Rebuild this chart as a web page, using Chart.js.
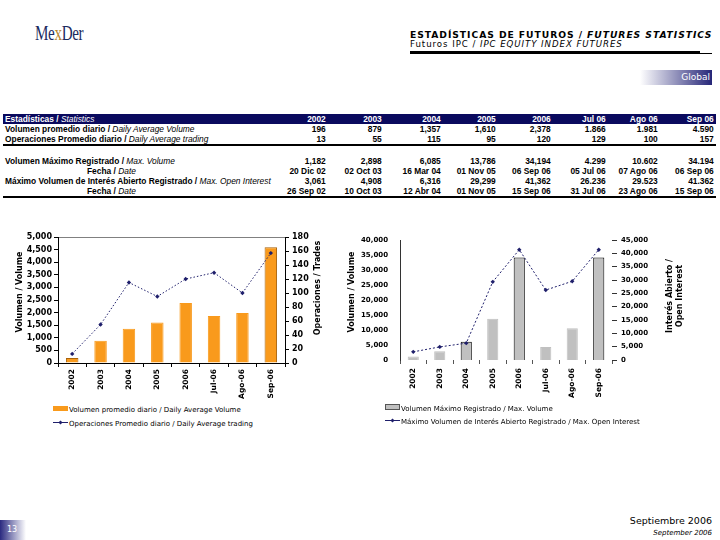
<!DOCTYPE html>
<html>
<head>
<meta charset="utf-8">
<script src="https://cdn.jsdelivr.net/npm/chart.js@4"></script>
<style>
  body { margin: 0; background: #fff; }
  #page { position: relative; width: 720px; height: 540px; overflow: hidden; font-family: "DejaVu Sans", sans-serif; color: #000; }
  .abs { position: absolute; }
  #logo { left: 35px; top: 21px; font-family: "Liberation Serif", serif; font-size: 21px; color: #1b2a5e; letter-spacing: -0.5px; transform: scaleX(0.72); transform-origin: left top; }
  #logo .x { color: #b8862b; }
  #title { left: 410px; top: 29px; font-size: 9.2px; font-weight: bold; letter-spacing: 0.95px; white-space: nowrap; }
  #subtitle { left: 410px; top: 39px; font-size: 8.6px; letter-spacing: 0.95px; white-space: nowrap; }
  #rule1 { left: 410px; top: 51px; width: 290px; height: 3px; background: #000; }
  #rule2 { left: 700px; top: 53px; width: 12px; height: 1px; background: #000; }
  #global { left: 640px; top: 70px; width: 72px; height: 15px; background: linear-gradient(to right, #fff, #262678); color: #fff; font-size: 9px; text-align: right; line-height: 15px; padding-right: 2px; box-sizing: border-box; }
  #stats { left: 3px; top: 114px; border-collapse: collapse; font-family: "Liberation Sans", sans-serif; font-size: 8.4px; font-weight: bold; }
  #stats td { padding: 0 2px 0 0; height: 10px; line-height: 10px; text-align: right; white-space: nowrap; }
  #stats td.lbl { text-align: left; padding-left: 2px; }
  #stats td.ind { padding-left: 84px; }
  #stats tr.head td { background: #0a0a5e; color: #fff; }
  #stats tr.rule td { border-bottom: 2px solid #000; }
  #stats i { font-weight: normal; }
  canvas { position: absolute; }
  .leg { position: absolute; font-size: 7px; white-space: nowrap; line-height: 9px; }
  .sw { display: inline-block; width: 15px; height: 5px; vertical-align: 1px; margin-right: 1px; }
  .lsw { display: inline-block; width: 15px; height: 5px; vertical-align: 1px; margin-right: 1px; position: relative; }
  .lsw::before { content: ""; position: absolute; left: 0; right: 0; top: 2px; border-top: 1px solid #1f1f6b; }
  .lsw::after { content: ""; position: absolute; left: 6px; top: 0.5px; width: 3px; height: 3px; background: #1f1f6b; transform: rotate(45deg); }
  #pgnum { left: 0; top: 520px; width: 26px; height: 20px; background: linear-gradient(to right, #2a2a80, #fff); color: #fff; font-size: 8px; line-height: 20px; padding-left: 7px; box-sizing: border-box; }
  #date1 { right: 8px; top: 515px; font-size: 9.5px; text-align: right; }
  #date2 { right: 8px; top: 529px; font-size: 7px; font-style: italic; text-align: right; }
</style>
</head>
<body>
<div id="page">
  <div id="logo" class="abs">Me<span class="x">x</span>Der</div>
  <div id="title" class="abs">ESTADÍSTICAS DE FUTUROS / <i>FUTURES STATISTICS</i></div>
  <div id="subtitle" class="abs">Futuros IPC / <i>IPC EQUITY INDEX FUTURES</i></div>
  <div id="rule1" class="abs"></div>
  <div id="rule2" class="abs"></div>
  <div id="global" class="abs">Global</div>

  <table id="stats" class="abs"></table>

  <canvas id="chart1" width="340" height="178" style="left:0px;top:228px;width:340px;height:178px"></canvas>
  <div class="leg" style="left:53px;top:406px"><span class="sw" style="background:#f99a1c"></span>Volumen promedio diario / Daily Average Volume</div>
  <div class="leg" style="left:53px;top:420px"><span class="lsw"></span>Operaciones Promedio diario / Daily Average trading</div>

  <canvas id="chart2" width="375" height="178" style="left:345px;top:228px;width:375px;height:178px"></canvas>
  <div class="leg" style="left:385px;top:404px"><span class="sw" style="background:#c0c0c0;border:1px solid #555;box-sizing:border-box;height:6px"></span>Volumen Máximo Registrado / Max. Volume</div>
  <div class="leg" style="left:385px;top:418px"><span class="lsw"></span>Máximo Volumen de Interés Abierto Registrado / Max. Open Interest</div>

  <div id="pgnum" class="abs">13</div>
  <div id="date1" class="abs">Septiembre 2006</div>
  <div id="date2" class="abs">September 2006</div>
</div>

<script>
// chart categories and values
const categories = ['2002', '2003', '2004', '2005', '2006', 'Jul-06', 'Ago-06', 'Sep-06'];
const avgVolume = [196, 879, 1357, 1610, 2378, 1866, 1981, 4590];
const avgTrades = [13, 55, 115, 95, 120, 129, 100, 157];
const maxVolume = [1182, 2898, 6085, 13786, 34194, 4299, 10602, 34194];
const maxOpenInterest = [3061, 4908, 6316, 29299, 41362, 26236, 29523, 41362];

// table columns and dates
const tableColumns = ['2002', '2003', '2004', '2005', '2006', 'Jul 06', 'Ago 06', 'Sep 06'];
const maxVolumeDates = ['20 Dic 02', '02 Oct 03', '16 Mar 04', '01 Nov 05', '06 Sep 06', '05 Jul 06', '07 Ago 06', '06 Sep 06'];
const maxOpenInterestDates = ['26 Sep 02', '10 Oct 03', '12 Abr 04', '01 Nov 05', '15 Sep 06', '31 Jul 06', '23 Ago 06', '15 Sep 06'];
const colWidths = [267, 55, 56, 59, 55, 55, 55, 52, 56];

// the monthly columns use a dot as thousands separator
function fmt(v, i) {
    const s = v.toLocaleString('en-US');
    return i >= 5 ? s.replace(/,/g, '.') : s;
}

// ---- table ----
const table = document.getElementById('stats');
function addRow(label, cells, cls, lblCls) {
    const tr = document.createElement('tr');
    if (cls) tr.className = cls;
    const td = document.createElement('td');
    td.className = 'lbl ' + (lblCls || '');
    td.innerHTML = label;
    tr.appendChild(td);
    cells.forEach(c => {
        const d = document.createElement('td');
        d.textContent = c;
        tr.appendChild(d);
    });
    table.appendChild(tr);
    return tr;
}
const head = addRow('Estadísticas / <i>Statistics</i>', tableColumns, 'head');
[...head.children].forEach((td, i) => td.style.width = (colWidths[i] - 2) + 'px');
addRow('Volumen promedio diario / <i>Daily Average Volume</i>', avgVolume.map(fmt));
addRow('Operaciones Promedio diario / <i>Daily Average trading</i>', avgTrades.map(fmt), 'rule');
addRow('&nbsp;', tableColumns.map(() => ''), 'blank');
addRow('Volumen Máximo Registrado / <i>Max. Volume</i>', maxVolume.map(fmt));
addRow('Fecha / <i>Date</i>', maxVolumeDates, '', 'ind');
addRow('Máximo Volumen de Interés Abierto Registrado / <i>Max. Open Interest</i>', maxOpenInterest.map(fmt));
addRow('Fecha / <i>Date</i>', maxOpenInterestDates, 'rule', 'ind');

// ---- charts ----
Chart.defaults.font.family = '"DejaVu Sans", sans-serif';
Chart.defaults.font.size = 8;
Chart.defaults.color = '#000';

// rotated axis titles, read bottom to top on both sides
const sideTitles = {
    id: 'sideTitles',
    afterDraw(chart, args, opts) {
        const ctx = chart.ctx;
        const area = chart.chartArea;
        (opts.items || []).forEach(it => {
            ctx.save();
            ctx.translate(it.x, (area.top + area.bottom) / 2 + (it.dy || 0));
            ctx.rotate(-Math.PI / 2);
            ctx.font = 'bold 8px "DejaVu Sans"';
            ctx.fillStyle = '#000';
            ctx.textAlign = 'center';
            ctx.textBaseline = 'middle';
            it.lines.forEach((l, i) => ctx.fillText(l, 0, (i - (it.lines.length - 1) / 2) * 10));
            ctx.restore();
        });
    }
};

const tickFont = { size: 8, weight: 'bold' };
const tickFont2 = { size: 7, weight: 'bold' };
const comma = v => v.toLocaleString('en-US');

new Chart(document.getElementById('chart1'), {
    data: {
        labels: categories,
        datasets: [{
            type: 'line',
            data: avgTrades,
            yAxisID: 'y1',
            borderColor: '#1f1f6b',
            borderWidth: 1,
            borderDash: [1.5, 2],
            pointStyle: 'rectRot',
            pointRadius: 2.2,
            pointBackgroundColor: '#1f1f6b',
            pointBorderWidth: 0,
            order: 0
        }, {
            type: 'bar',
            data: avgVolume,
            yAxisID: 'y',
            backgroundColor: '#f99a1c',
            borderColor: ['#a8620a', '#f99a1c', '#f99a1c', '#f99a1c', '#f99a1c', '#f99a1c', '#f99a1c', '#a8620a'],
            borderWidth: 1,
            categoryPercentage: 1,
            barPercentage: 0.44,
            order: 1
        }]
    },
    options: {
        responsive: false,
        animation: false,
        layout: { padding: { top: 9 } },
        plugins: {
            legend: { display: false },
            tooltip: { enabled: false },
            sideTitles: { items: [
                { x: 20, dy: -8, lines: ['Volumen / Volume'] },
                { x: 318, dy: -12, lines: ['Operaciones / Trades'] }
            ] }
        },
        scales: {
            x: {
                afterFit: s => { s.height = 43; },
                grid: { display: true, drawOnChartArea: false, offset: true, tickLength: 4, color: '#000' },
                border: { color: '#000' },
                ticks: { font: { size: 7.5, weight: 'bold' }, minRotation: 90, maxRotation: 90, padding: 2 }
            },
            y: {
                position: 'left',
                min: 0, max: 5000,
                afterFit: s => { s.width = 58; },
                grid: { color: c => c.tick.value === 5000 ? '#808080' : 'rgba(0,0,0,0)', tickColor: '#000', tickLength: 4 },
                border: { color: '#000' },
                ticks: { stepSize: 500, font: tickFont, padding: 2, callback: comma }
            },
            y1: {
                position: 'right',
                min: 0, max: 180,
                afterFit: s => { s.width = 55; },
                grid: { drawOnChartArea: false, color: '#000', tickLength: 4 },
                border: { color: '#000' },
                ticks: { stepSize: 20, font: tickFont, padding: 3 }
            }
        }
    },
    plugins: [sideTitles]
});

new Chart(document.getElementById('chart2'), {
    data: {
        labels: categories,
        datasets: [{
            type: 'line',
            data: maxOpenInterest,
            yAxisID: 'y1',
            borderColor: '#1f1f6b',
            borderWidth: 1,
            borderDash: [2, 2],
            pointStyle: 'rectRot',
            pointRadius: 2.2,
            pointBackgroundColor: '#1f1f6b',
            pointBorderWidth: 0,
            order: 0
        }, {
            type: 'bar',
            data: maxVolume,
            yAxisID: 'y',
            backgroundColor: '#c0c0c0',
            borderColor: ['#c0c0c0', '#c0c0c0', '#000', '#c0c0c0', '#000', '#c0c0c0', '#c0c0c0', '#000'],
            borderWidth: { top: 1, left: 1, right: 1, bottom: 0 },
            categoryPercentage: 1,
            barPercentage: 0.42,
            order: 1
        }]
    },
    options: {
        responsive: false,
        animation: false,
        layout: { padding: { top: 12 } },
        plugins: {
            legend: { display: false },
            tooltip: { enabled: false },
            sideTitles: { items: [
                { x: 7, dy: -8, lines: ['Volumen / Volume'] },
                { x: 330, dy: -4, lines: ['Interés Abierto /', 'Open Interest'] }
            ] }
        },
        scales: {
            x: {
                afterFit: s => { s.height = 46; },
                grid: { display: true, drawOnChartArea: false, offset: true, tickLength: 4, color: '#555' },
                border: { display: false },
                ticks: { font: { size: 7.5, weight: 'bold' }, minRotation: 90, maxRotation: 90, padding: 4 }
            },
            y: {
                position: 'left',
                min: 0, max: 40000,
                afterFit: s => { s.width = 55; },
                grid: { display: false },
                border: { color: '#333' },
                ticks: { stepSize: 5000, font: tickFont2, padding: 4, callback: comma }
            },
            y1: {
                position: 'right',
                min: 0, max: 45000,
                afterFit: s => { s.width = 108; },
                grid: { drawOnChartArea: false, color: '#333', tickLength: 5 },
                border: { display: false },
                ticks: { stepSize: 5000, font: tickFont2, padding: 4, callback: comma }
            }
        }
    },
    plugins: [sideTitles]
});
</script>
</body>
</html>
